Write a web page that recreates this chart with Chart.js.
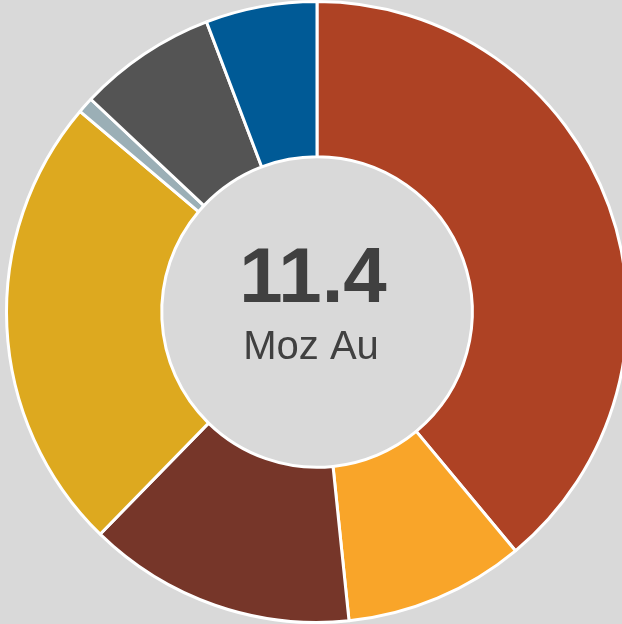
<!DOCTYPE html>
<html>
<head>
<meta charset="utf-8">
<script src="https://cdn.jsdelivr.net/npm/chart.js@4.4.7/dist/chart.umd.min.js"></script>
<style>
  html, body { margin: 0; padding: 0; background: #d9d9d9; overflow: hidden; }
  #wrap { position: absolute; left: 0; top: 0; width: 634px; height: 624px; }
</style>
</head>
<body>
<div id="wrap"><canvas id="chart" width="634" height="624"></canvas></div>
<script>
// gold resource split, Moz Au
const labels = ["Segment A", "Segment B", "Segment C", "Segment D", "Segment E", "Segment F", "Segment G"]
const ounces = [4.44, 1.07, 1.59, 2.72, 0.095, 0.82, 0.66]
const colors = ["#ae4224", "#f9a529", "#763629", "#dda91f", "#9bafb6", "#545454", "#005a96"]
const totalLabel = "11.4"
const unitLabel = "Moz Au"

const centerText = {
  id: "centerText",
  afterDraw(chart) {
    const arc = chart.getDatasetMeta(0).data[0]
    if (!arc) return
    const { ctx } = chart
    ctx.save()
    ctx.fillStyle = "#404040"
    ctx.textAlign = "center"
    ctx.textBaseline = "alphabetic"
    ctx.font = "bold 78px 'Liberation Sans', Arial, sans-serif"
    ctx.fillText(totalLabel, arc.x - 4, arc.y - 10)
    ctx.font = "40px 'Liberation Sans', Arial, sans-serif"
    ctx.fillText(unitLabel, arc.x - 6, arc.y + 47)
    ctx.restore()
  }
}

new Chart(document.getElementById("chart"), {
  type: "doughnut",
  data: {
    labels,
    datasets: [{
      data: ounces,
      backgroundColor: colors,
      borderColor: "#ffffff",
      borderWidth: 3
    }]
  },
  options: {
    responsive: false,
    animation: false,
    cutout: "50%",
    layout: { padding: 0 },
    plugins: {
      legend: { display: false },
      tooltip: { enabled: false }
    }
  },
  plugins: [centerText]
})
</script>
</body>
</html>
